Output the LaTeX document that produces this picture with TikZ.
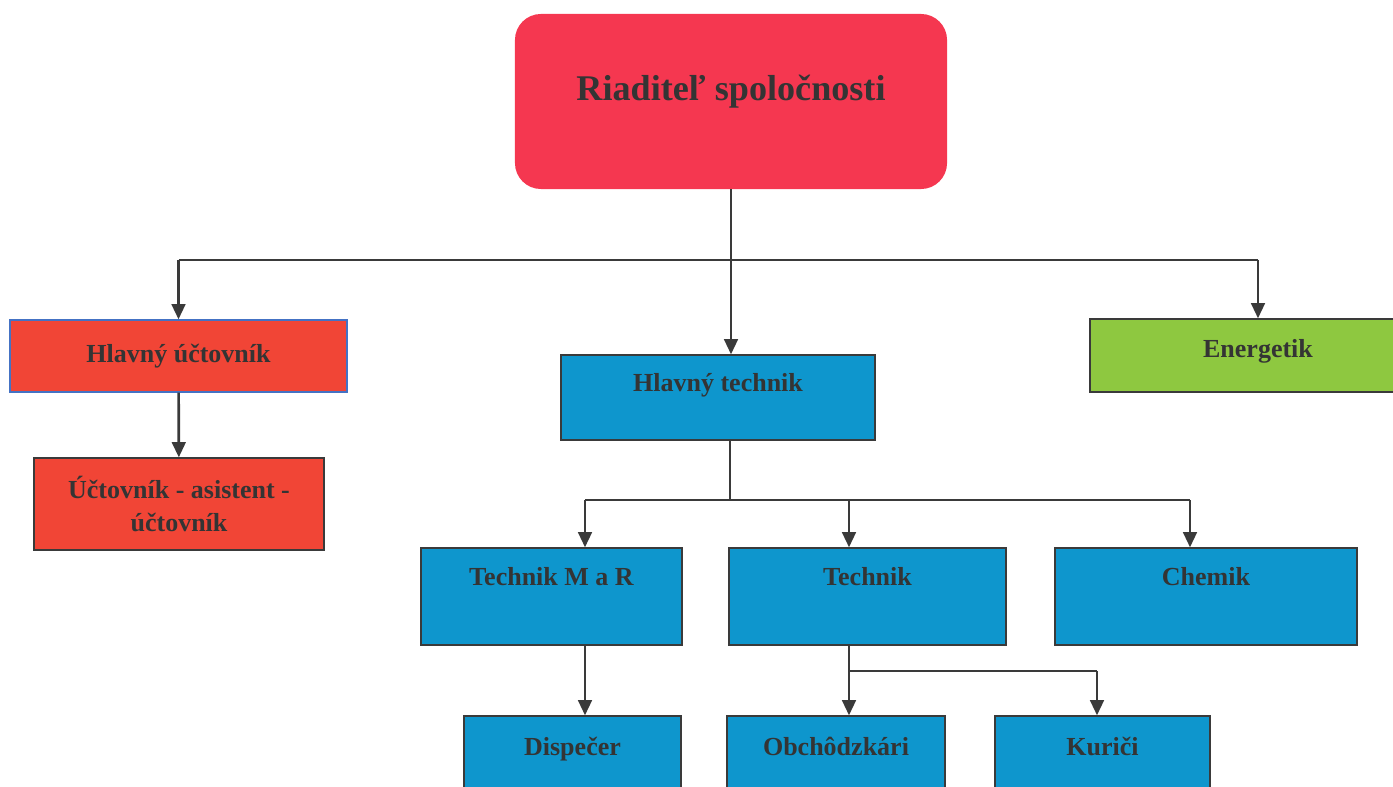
\documentclass[tikz,border=0pt]{standalone}
\usepackage{fontspec}
\setmainfont{Liberation Serif}
\usetikzlibrary{arrows.meta}

\definecolor{bossred}{RGB}{245,55,80}
\definecolor{boxred}{RGB}{241,69,54}
\definecolor{boxblue}{RGB}{14,150,205}
\definecolor{boxgreen}{RGB}{142,200,64}
\definecolor{edgeblue}{RGB}{68,114,196}
\definecolor{textgray}{RGB}{52,52,52}
\definecolor{linegray}{RGB}{58,58,58}

\begin{document}
\begin{tikzpicture}[
      x=0.025cm, y=-0.025cm,
      every node/.style={font=\fontsize{18.5}{23.4}\selectfont\bfseries, text=textgray, align=center},
      box/.style={draw=linegray, line width=0.9pt, inner sep=2pt},
      toptext/.style={text height=0.7em, text depth=#1},
      link/.style={draw=linegray, line width=1.9pt},
      arrow/.style={link, -{Triangle[length=0.38cm, width=0.34cm]}}
    ]

    \useasboundingbox (0,0) rectangle (1393,787);
    \clip (0,0) rectangle (1393,787);

    % Director
    \node (boss) [fill=bossred, rounded corners=0.65cm, minimum width=10.8cm, minimum height=4.375cm,
      toptext=0.3cm, font=\fontsize{25.7}{30}\selectfont\bfseries] at (731,101.5) {Riaditeľ spoločnosti};

    % Second level
    \node (ucto) [box, draw=edgeblue, fill=boxred, minimum width=8.425cm, minimum height=1.8cm] at (178.5,356) {Hlavný účtovník};
    \node (htech) [box, fill=boxblue, minimum width=7.85cm, minimum height=2.125cm, toptext=0.525cm] at (718,397.5) {Hlavný technik};
    \node (energ) [box, fill=boxgreen, minimum width=8.4cm, minimum height=1.825cm, toptext=0.125cm] at (1258,355.5) {Energetik};

    % Accounting
    \node (asist) [box, fill=boxred, minimum width=7.25cm, minimum height=2.3cm] at (179,504) {Účtovník - asistent -\\účtovník};

    % Technical staff
    \node (mar) [box, fill=boxblue, minimum width=6.525cm, minimum height=2.425cm, toptext=0.8cm] at (551.5,596.5) {Technik M a R};
    \node (tech) [box, fill=boxblue, minimum width=6.925cm, minimum height=2.425cm, toptext=0.8cm] at (867.5,596.5) {Technik};
    \node (chem) [box, fill=boxblue, minimum width=7.55cm, minimum height=2.425cm, toptext=0.8cm] at (1206,596.5) {Chemik};

    % Bottom level
    \node (disp) [box, fill=boxblue, minimum width=5.425cm, minimum height=2.75cm, toptext=1cm] at (572.5,771) {Dispečer};
    \node (obch) [box, fill=boxblue, minimum width=5.45cm, minimum height=2.75cm, toptext=1cm] at (836,771) {Obchôdzkári};
    \node (kuri) [box, fill=boxblue, minimum width=5.375cm, minimum height=2.75cm, toptext=1cm] at (1102.5,771) {Kuriči};

    % Junction points
    \coordinate (bus) at (731,260);
    \coordinate (tbus) at (730,500);
    \coordinate (t1) at (585,500);
    \coordinate (t2) at (849,500);
    \coordinate (t3) at (1190,500);
    \coordinate (kbus) at (849,671);
    \coordinate (k2) at (1097,671);

    % Director connectors
    \draw[arrow] (boss.south) -- (boss.south |- htech.north);
    \draw[link] (ucto.north |- bus) -- (energ.north |- bus);
    \draw[arrow] (ucto.north |- bus) -- (ucto.north);
    \draw[arrow] (energ.north |- bus) -- (energ.north);
    \draw[arrow] (ucto) -- (asist);

    % Technical connectors
    \draw[link] (tbus |- htech.south) -- (tbus);
    \draw[link] (t1) -- (t3);
    \draw[arrow] (t1) -- (t1 |- mar.north);
    \draw[arrow] (t2) -- (t2 |- tech.north);
    \draw[arrow] (t3) -- (t3 |- chem.north);
    \draw[arrow] (t1 |- mar.south) -- (t1 |- disp.north);
    \draw[arrow] (kbus |- tech.south) -- (kbus |- obch.north);
    \draw[link] (kbus) -- (k2);
    \draw[arrow] (k2) -- (k2 |- kuri.north);

\end{tikzpicture}
\end{document}
